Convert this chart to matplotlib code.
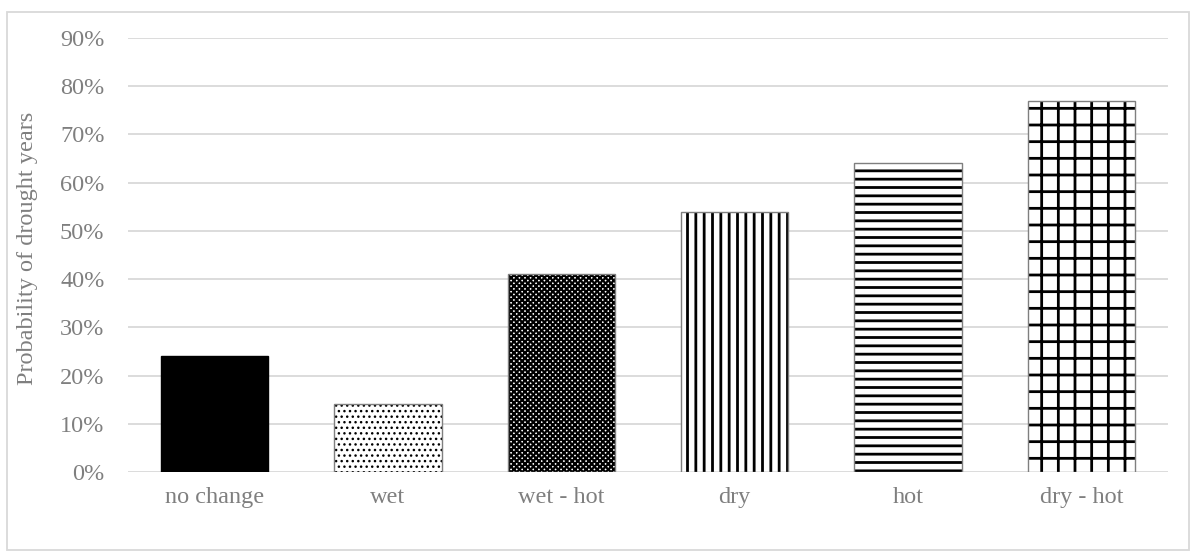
import matplotlib
matplotlib.use("Agg")
import matplotlib.pyplot as plt
from matplotlib.patches import Rectangle
from matplotlib.ticker import PercentFormatter

categories = ["no change", "wet", "wet - hot", "dry", "hot", "dry - hot"]
probability = [0.24, 0.14, 0.41, 0.54, 0.64, 0.77]
y_ticks = [0.0, 0.1, 0.2, 0.3, 0.4, 0.5, 0.6, 0.7, 0.8, 0.9]

# fill style for each scenario: (face colour, hatch, hatch line width)
fills = [
    ("black", None, 1.0),
    ("white", "...", 1.0),
    ("white", "xxxxxx", 1.6),
    ("white", "||", 2.0),
    ("white", "--", 2.0),
    ("white", "+", 2.0),
]

plt.rcParams["font.family"] = ["Liberation Serif", "DejaVu Serif"]
W, H = 1196, 557
fig = plt.figure(figsize=(W / 100, H / 100), dpi=100)
ax = fig.add_axes([128 / W, (H - 472) / H, (1168 - 128) / W, (472 - 38) / H])

grey = "#7f7f7f"
for i, (cat, val, (fc, hatch, hlw)) in enumerate(zip(categories, probability, fills)):
    plt.rcParams["hatch.linewidth"] = hlw
    bar = ax.bar(i, val, width=0.62, color=fc, edgecolor="#7f7f7f" if hatch else "black",
                 linewidth=1.0, hatch=hatch, zorder=3)
    for p in bar:
        if hatch:
            try:
                p.set_hatch_linewidth(hlw)
            except AttributeError:
                pass
            p._hatch_color = (0, 0, 0, 1)

ax.set_xlim(-0.5, len(categories) - 0.5)
ax.set_ylim(0, 0.9)
ax.set_yticks(y_ticks)
ax.yaxis.set_major_formatter(PercentFormatter(1.0, decimals=0))
ax.set_xticks(range(len(categories)))
ax.set_xticklabels(categories)
ax.grid(axis="y", color="#d9d9d9", linewidth=1.3, zorder=0)
ax.set_axisbelow(True)
for s in ax.spines.values():
    s.set_visible(False)
ax.tick_params(axis="both", length=0, labelsize=17.5, colors=grey)
ax.tick_params(axis="y", pad=17)
ax.tick_params(axis="x", pad=11)
ax.set_ylabel("Probability of drought years", fontsize=17.5, color=grey)
ax.yaxis.set_label_coords((38 - 128) / 1040, 0.515)

# light frame around the whole chart area
fig.patches.append(Rectangle((7 / W, 1 - 550 / H), (1189 - 7) / W, (550 - 12) / H,
                             transform=fig.transFigure, fill=False,
                             edgecolor="#d9d9d9", linewidth=1.3))

fig.savefig("out.png", dpi=100)
